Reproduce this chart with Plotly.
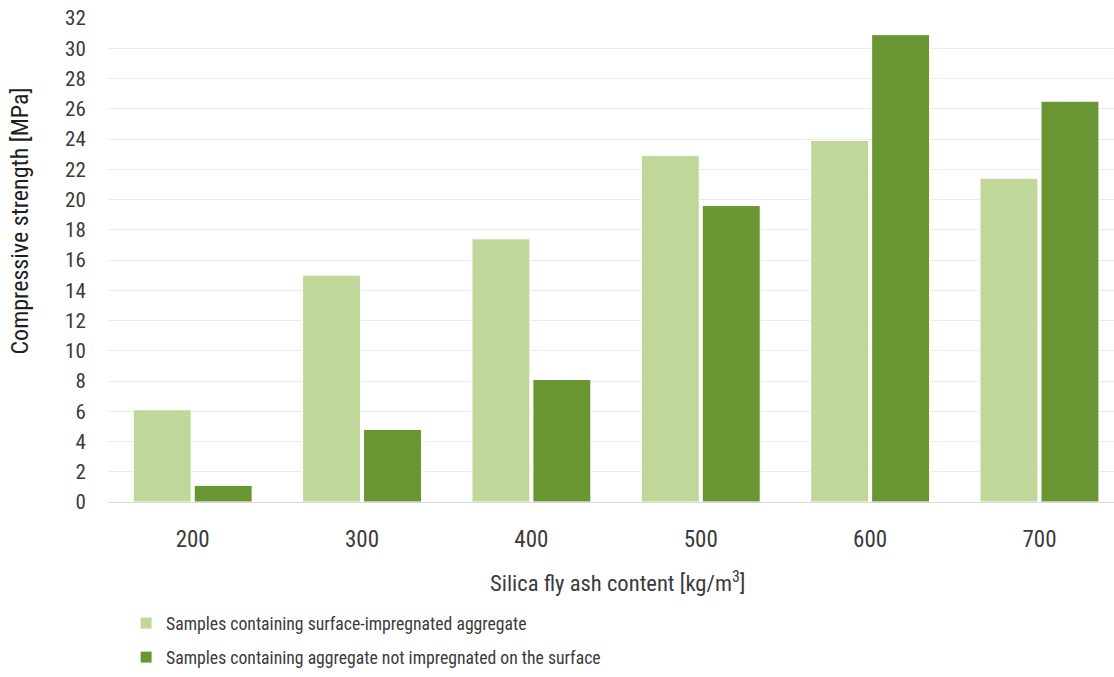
import plotly.graph_objects as go

# Silica fly ash content [kg/m3]
categories = ["200", "300", "400", "500", "600", "700"]

# Compressive strength [MPa]
impregnated = [6.1, 15.0, 17.4, 22.9, 23.9, 21.4]
not_impregnated = [1.1, 4.8, 8.1, 19.6, 30.9, 26.5]

y_ticks = list(range(0, 33, 2))

FONT = "Roboto Condensed, Liberation Sans Narrow, Roboto, sans-serif"
TEXT = "#3b3b3b"

fig = go.Figure()
fig.add_trace(go.Bar(
    x=categories, y=impregnated,
    name="Samples containing surface-impregnated aggregate",
    marker=dict(color="#BFD89A", line=dict(color="white", width=1)),
    legendgroup="a",
))
fig.add_trace(go.Bar(
    x=categories, y=not_impregnated,
    name="Samples containing aggregate not impregnated on the surface",
    marker=dict(color="#6A9533", line=dict(color="white", width=1)),
    legendgroup="b",
))

fig.update_layout(
    width=1114, height=677,
    margin=dict(l=108, r=0, t=18, b=175),
    paper_bgcolor="white", plot_bgcolor="white",
    font=dict(family=FONT, size=18, color=TEXT),
    barmode="group", bargap=0.28, bargroupgap=0.05,
    legend=dict(
        orientation="v", x=0.018, xanchor="left", y=-0.213, yanchor="top",
        traceorder="grouped", tracegroupgap=8,
        font=dict(size=17.7, color=TEXT),
        bgcolor="rgba(0,0,0,0)",
    ),
    xaxis=dict(
        type="category", range=[-0.5, 5.44], automargin=False,
        showgrid=False, showline=True, linecolor="#d9d9d9", linewidth=1,
        ticks="outside", ticklen=16, tickcolor="rgba(0,0,0,0)",
        tickfont=dict(size=23, color=TEXT),
    ),
    yaxis=dict(
        range=[0, 32], tickvals=y_ticks, automargin=False,
        showgrid=True, gridcolor="#ebebeb", gridwidth=1,
        zeroline=True, zerolinecolor="#d9d9d9", zerolinewidth=1,
        ticks="outside", ticklen=17, tickcolor="rgba(0,0,0,0)",
        tickfont=dict(size=21, color=TEXT),
    ),
    annotations=[
        dict(text="Silica fly ash content [kg/m<sup>3</sup>]",
             xref="paper", yref="paper", x=0.506, y=-0.166,
             xanchor="center", yanchor="middle", showarrow=False,
             font=dict(size=22.6, color=TEXT)),
        dict(text="Compressive strength [MPa]",
             xref="paper", yref="paper", x=-0.0875, y=0.5816,
             xanchor="center", yanchor="middle", showarrow=False,
             textangle=-90, font=dict(size=24, color="#1f1f1f")),
    ],
)

fig.write_html("out.html")
